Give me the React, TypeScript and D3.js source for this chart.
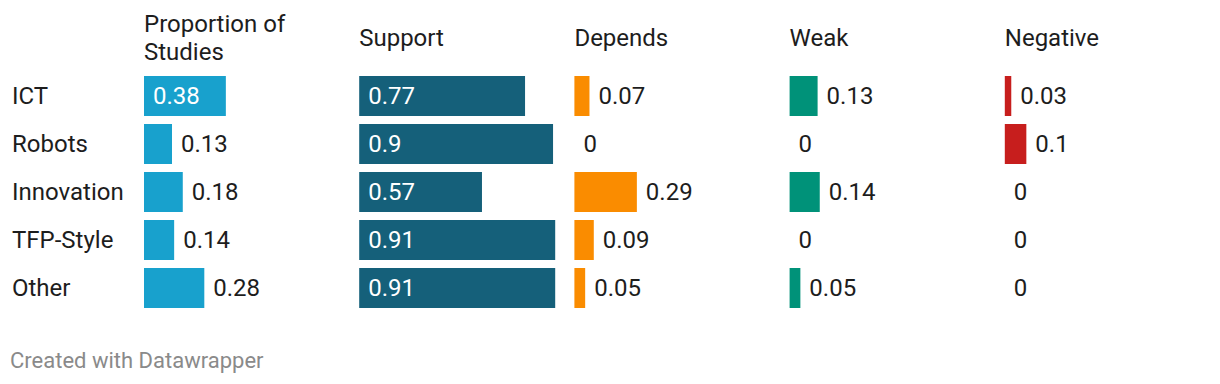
import React from 'react'
import * as d3 from 'd3'

// chart values
const categories = ['ICT', 'Robots', 'Innovation', 'TFP-Style', 'Other']
const seriesNames = ['Proportion of Studies', 'Support', 'Depends', 'Weak', 'Negative']
const headerLines = [['Proportion of', 'Studies'], ['Support'], ['Depends'], ['Weak'], ['Negative']]
const proportion = [0.38, 0.13, 0.18, 0.14, 0.28]
const support = [0.77, 0.9, 0.57, 0.91, 0.91]
const depends = [0.07, 0, 0.29, 0.09, 0.05]
const weak = [0.13, 0, 0.14, 0, 0.05]
const negative = [0.03, 0.1, 0, 0, 0]
const colors = ['#18a1cd', '#15607a', '#fa8c00', '#009279', '#c71e1d']

const seriesValues = [proportion, support, depends, weak, negative]

const width = 1220
const height = 384
const font = 'Roboto, sans-serif'
const fontSize = 24

const App = () => {
    const colScale = d3.scaleBand<string>()
        .domain(seriesNames)
        .range([144, 144 + 5 * 215.2])

    const rowScale = d3.scaleBand<string>()
        .domain(categories)
        .range([72, 312])
        .paddingInner(1 / 6)
        .paddingOuter(1 / 12)

    const maxVal = d3.max(seriesValues.flat()) as number
    const xScale = d3.scaleLinear().domain([0, maxVal]).range([0, 196])

    const fmt = (v: number) => String(v)

    return (
        <svg width={width} height={height} style={{ position: 'absolute', left: 0, top: 0, background: '#fff' }}
            fontFamily={font}>
            {/* column headers */}
            {seriesNames.map((s, i) => {
                const lines = headerLines[i]
                const lh = 28
                const cy = 38
                return (
                    <text key={s} x={colScale(s)} fontSize={fontSize} fill="#1d1d1d">
                        {lines.map((t, j) => (
                            <tspan key={j} x={colScale(s)}
                                y={cy + (j - (lines.length - 1) / 2) * lh}
                                dominantBaseline="central">{t}</tspan>
                        ))}
                    </text>
                )
            })}

            {/* row labels */}
            {categories.map(c => (
                <text key={c} x={12} y={(rowScale(c) as number) + rowScale.bandwidth() / 2}
                    dominantBaseline="central" fontSize={fontSize} fill="#1d1d1d">{c}</text>
            ))}

            {/* bars and value labels */}
            {seriesNames.map((s, i) => {
                const x0 = colScale(s) as number
                return (
                    <g key={s}>
                        {categories.map((c, k) => {
                            const v = seriesValues[i][k]
                            const w = xScale(v)
                            const y = rowScale(c) as number
                            const inside = w > 75
                            return (
                                <g key={c}>
                                    {v > 0 && <rect x={x0} y={y} width={w} height={rowScale.bandwidth()} fill={colors[i]} />}
                                    <text x={inside ? x0 + 9 : x0 + w + 9}
                                        y={y + rowScale.bandwidth() / 2}
                                        dominantBaseline="central" fontSize={fontSize}
                                        fill={inside ? '#fff' : '#1d1d1d'}>{fmt(v)}</text>
                                </g>
                            )
                        })}
                    </g>
                )
            })}

            <text x={10} y={360} dominantBaseline="central" fontSize={22} fill="#8a8a8a">Created with Datawrapper</text>
        </svg>
    )
}

export default App
